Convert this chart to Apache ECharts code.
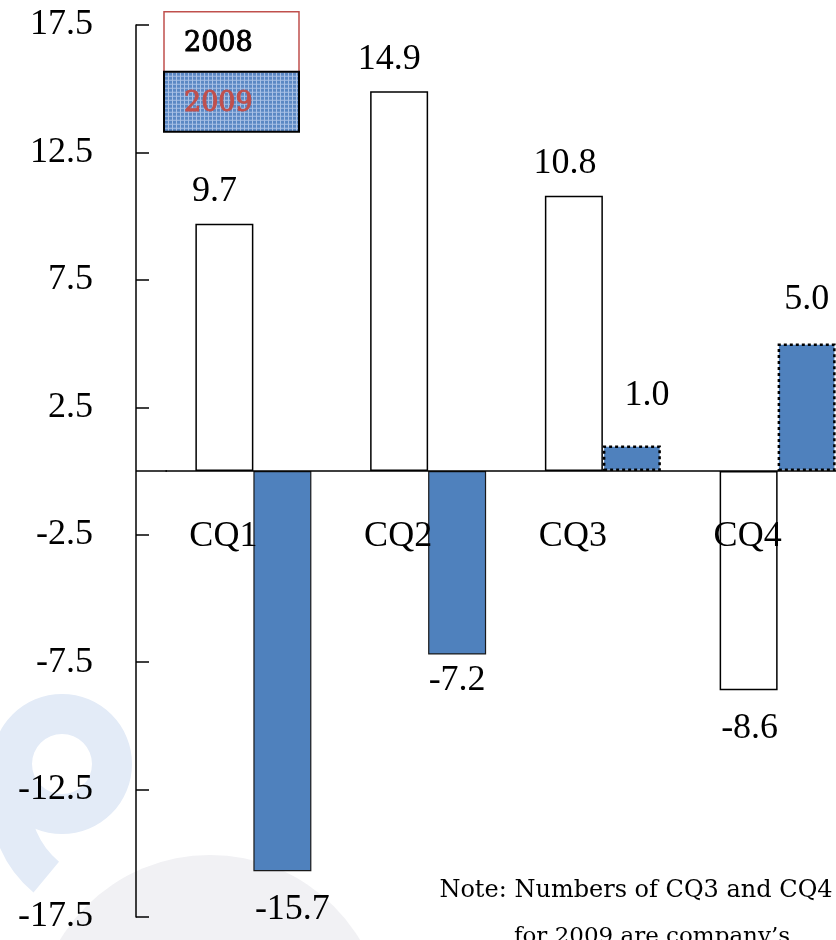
<!DOCTYPE html>
<html>
<head>
<meta charset="utf-8">
<script src="https://cdn.jsdelivr.net/npm/echarts@6/dist/echarts.min.js"></script>
<style>
  html, body { margin: 0; padding: 0; background: #fff; }
  #chart { width: 836px; height: 940px; }
</style>
</head>
<body>
<div id="chart"></div>
<script>
// Quarterly growth, 2008 vs 2009
const quarters = ['CQ1', 'CQ2', 'CQ3', 'CQ4'];
const growth2008 = [9.7, 14.9, 10.8, -8.6];
const growth2009 = [-15.7, -7.2, 1.0, 5.0];
const yTickValues = [-17.5, -12.5, -7.5, -2.5, 2.5, 7.5, 12.5, 17.5];

// Small nudges [dx, dy] for the value labels
const shift2008 = [[-10, 0], [-10, 0], [-9, 0], [1, 0]];
const shift2009 = [[10, 0], [0, -12], [15, -18], [0, -12]];
// 2009 quarters that are company estimates get a dotted outline
const estimated2009 = [false, false, true, true];

const SERIF = '"Liberation Serif", "Times New Roman", serif';
const BLUE = '#4f81bd';

function labelled(values, shifts, extra) {
  return values.map((v, i) => {
    const item = {
      value: v,
      label: {
        position: v >= 0 ? 'top' : 'bottom',
        distance: v >= 0 ? 14 : 20,
        offset: shifts[i]
      }
    };
    if (extra) Object.assign(item, extra(i));
    return item;
  });
}

// Mesh-like fill used for the 2009 legend swatch
function meshPattern() {
  const c = document.createElement('canvas');
  c.width = 4; c.height = 4;
  const g = c.getContext('2d');
  g.fillStyle = '#5b88c4';
  g.fillRect(0, 0, 4, 4);
  g.fillStyle = '#a9c1e6';
  g.fillRect(0, 0, 4, 1);
  g.fillRect(0, 0, 1, 4);
  return c;
}

const chart = echarts.init(document.getElementById('chart'));

const option = {
  backgroundColor: '#fff',
  animation: false,
  grid: { left: 166, right: -29, top: 25, bottom: 23, containLabel: false, outerBoundsMode: 'none' },
  xAxis: {
    type: 'category',
    data: quarters,
    position: 'bottom',
    offset: 0,
    axisLine: { onZero: false, lineStyle: { color: '#000', width: 1.5 } },
    axisTick: { show: false },
    axisLabel: {
      color: '#000',
      fontFamily: SERIF,
      fontSize: 36,
      margin: 48,
      padding: [0, 60, 0, 0]
    },
    z: 5
  },
  yAxis: {
    type: 'value',
    min: -17.5,
    max: 17.5,
    offset: 30,
    splitLine: { show: false },
    axisLine: { show: true, lineStyle: { color: '#000', width: 1.5 } },
    axisTick: { show: true, inside: true, length: 13, customValues: yTickValues, lineStyle: { color: '#000', width: 1.5 } },
    axisLabel: {
      color: '#000',
      fontFamily: SERIF,
      fontSize: 36,
      margin: 43,
      customValues: yTickValues,
      formatter: v => v.toFixed(1)
    }
  },
  series: [
    {
      name: '2008',
      type: 'bar',
      barWidth: 58,
      barGap: '0%',
      data: labelled(growth2008, shift2008),
      itemStyle: { color: '#fff', borderColor: '#000', borderWidth: 1.5 },
      label: {
        show: true,
        color: '#000',
        fontFamily: SERIF,
        fontSize: 36,
        formatter: p => p.value.toFixed(1)
      }
    },
    {
      name: '2009',
      type: 'bar',
      barWidth: 58,
      barGap: '0%',
      data: labelled(growth2009, shift2009, i => estimated2009[i]
        ? { itemStyle: { borderColor: '#000', borderWidth: 2.5, borderType: [3, 3] } }
        : {}),
      itemStyle: { color: BLUE, borderColor: '#1a1a1a', borderWidth: 1.2 },
      label: {
        show: true,
        color: '#000',
        fontFamily: SERIF,
        fontSize: 36,
        formatter: p => p.value.toFixed(1)
      }
    }
  ]
};

chart.setOption(option);

// Pixel geometry from the axes
const rect = chart.getModel().getComponent('grid').coordinateSystem.getRect();
const zeroY = chart.convertToPixel({ yAxisIndex: 0 }, 0);
const axisX = rect.x - option.yAxis.offset;

// lift the category axis (line + labels) up to the zero value
chart.setOption({ xAxis: { offset: -(rect.y + rect.height - zeroY) } });

chart.setOption({
  graphic: [
    // faint watermark in the lower left
    {
      type: 'circle', z: -10, silent: true,
      shape: { cx: 210, cy: 1030, r: 175 },
      style: { fill: '#f1f1f4' }
    },
    {
      type: 'ring', z: -9, silent: true,
      shape: { cx: 62, cy: 764, r: 70, r0: 30 },
      style: { fill: '#e3ebf7' }
    },
    {
      type: 'sector', z: -9, silent: true,
      shape: { cx: 110, cy: 800, r: 120, r0: 80, startAngle: Math.PI * 0.72, endAngle: Math.PI * 1.02 },
      style: { fill: '#e3ebf7' }
    },
    // zero line continues left to the value axis
    {
      type: 'line', z: 5, silent: true,
      shape: { x1: axisX, y1: zeroY, x2: rect.x + 1, y2: zeroY },
      style: { stroke: '#000', lineWidth: 1.5 }
    },
    // legend block
    {
      type: 'group', left: 163, top: 11, z: 20,
      children: [
        {
          type: 'rect',
          shape: { x: 0, y: 0, width: 135, height: 60 },
          style: { fill: '#fff', stroke: '#c0504d', lineWidth: 1.5 }
        },
        {
          type: 'rect',
          shape: { x: 0, y: 60, width: 135, height: 60 },
          style: { fill: { image: meshPattern(), repeat: 'repeat' }, stroke: '#000', lineWidth: 2 }
        },
        {
          type: 'text', x: 20, y: 32,
          style: { text: '2008', fill: '#000', stroke: '#000', lineWidth: 1, font: '27px "DejaVu Serif", serif', verticalAlign: 'middle' }
        },
        {
          type: 'text', x: 20, y: 92,
          style: { text: '2009', fill: '#c0504d', stroke: '#c0504d', lineWidth: 1, font: '27px "DejaVu Serif", serif', verticalAlign: 'middle' }
        }
      ]
    },
    // footnote
    {
      type: 'text', z: 20, x: 636, y: 891,
      style: { text: 'Note: Numbers of CQ3 and CQ4', fill: '#000', font: '24px "DejaVu Serif", serif', align: 'center', verticalAlign: 'middle' }
    },
    {
      type: 'text', z: 20, x: 652, y: 937,
      style: { text: 'for 2009 are company\u2019s', fill: '#000', font: '23px "DejaVu Serif", serif', align: 'center', verticalAlign: 'middle' }
    }
  ]
});
</script>
</body>
</html>
